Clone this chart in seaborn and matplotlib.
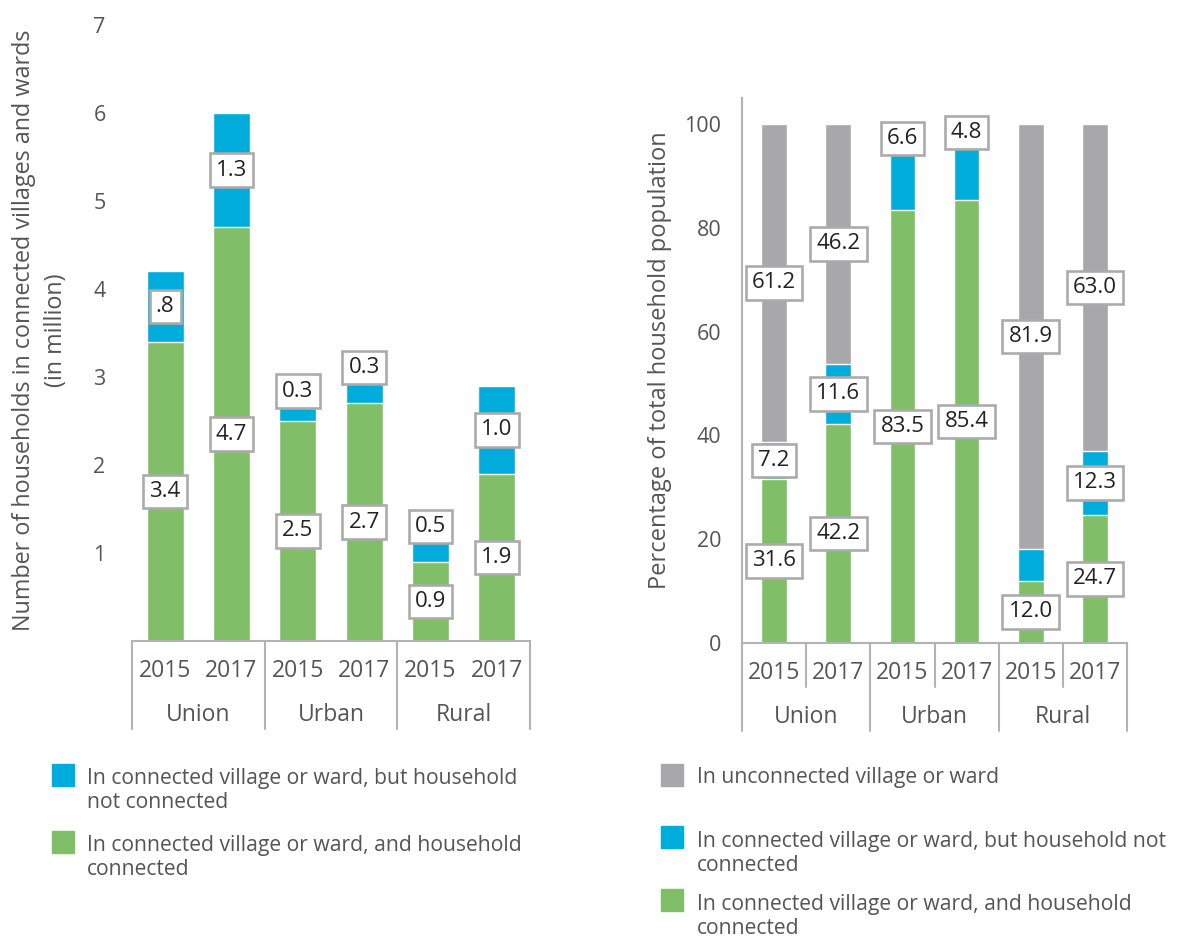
import matplotlib
matplotlib.use("Agg")
import matplotlib.pyplot as plt
from matplotlib.patches import Rectangle
import seaborn as sns

sns.set_style("white")
plt.rcParams["font.family"] = ["Open Sans", "DejaVu Sans"]

# ---- data ----
areas = ["Union", "Urban", "Rural"]
years = ["2015", "2017"]
bar_ids = [f"{a} {y}" for a in areas for y in years]

# left: households (million)
hh_connected = [3.4, 4.7, 2.5, 2.7, 0.9, 1.9]
hh_not_connected = [0.8, 1.3, 0.3, 0.3, 0.5, 1.0]
hh_conn_labels = ["3.4", "4.7", "2.5", "2.7", "0.9", "1.9"]
hh_not_labels = [".8", "1.3", "0.3", "0.3", "0.5", "1.0"]

# right: percentage of household population
pct_connected = [31.6, 42.2, 83.5, 85.4, 12.0, 24.7]
pct_not_connected = [7.2, 11.6, 16.5, 14.6, 6.1, 12.3]   # as drawn
pct_unconnected = [61.2, 46.2, 0.0, 0.0, 81.9, 63.0]
pct_conn_labels = ["31.6", "42.2", "83.5", "85.4", "12.0", "24.7"]
pct_not_labels = ["7.2", "11.6", "6.6", "4.8", "", "12.3"]
pct_unconn_labels = ["61.2", "46.2", "", "", "81.9", "63.0"]

BLUE = "#00ACDB"
GREEN = "#80BF67"
GREY = "#A8A8AA"
LINE = "#B3B3B3"
TXT = "#555555"

W, H = 1177, 938
fig = plt.figure(figsize=(W / 100, H / 100), dpi=100)


def px_axes(x0, y0, x1, y1):
    return fig.add_axes([x0 / W, 1 - y1 / H, (x1 - x0) / W, (y1 - y0) / H])


def boxed(ax, x, y, s):
    if not s:
        return
    ax.text(x, y, s, ha="center", va="center", fontsize=16, color="#222222",
            bbox=dict(boxstyle="square,pad=0.28", fc="white", ec="#ABABAB", lw=1.9),
            zorder=5)


def category_axis(ax, height_px, year_lines):
    tr = ax.get_xaxis_transform()
    ypx = lambda p: -p / height_px
    for i, b in enumerate(bar_ids):
        ax.text(i, ypx(30), b.split()[1], transform=tr, ha="center", va="center",
                fontsize=16.5, color=TXT)
    for g, a in enumerate(areas):
        ax.text(2 * g + 0.5, ypx(74), a, transform=tr, ha="center", va="center",
                fontsize=16.5, color=TXT)
    for k in range(7):
        x = k - 0.5
        if k % 2 == 0:
            ax.plot([x, x], [0, ypx(88)], transform=tr, color=LINE, lw=1.5, clip_on=False)
        elif year_lines:
            ax.plot([x, x], [0, ypx(44)], transform=tr, color=LINE, lw=1.5, clip_on=False)


# ---- left panel ----
ax1 = px_axes(132, 25, 530, 641)
hh_total = [c + n for c, n in zip(hh_connected, hh_not_connected)]
sns.barplot(x=bar_ids, y=hh_total, color=BLUE, saturation=1, width=0.56,
            errorbar=None, order=bar_ids, ax=ax1)
sns.barplot(x=bar_ids, y=hh_connected, color=GREEN, saturation=1, width=0.56,
            errorbar=None, order=bar_ids, ax=ax1)
ax1.set_xlim(-0.5, 5.5)
ax1.set_ylim(0, 7)
ax1.set_yticks(range(1, 8))
ax1.set_xticks([])
ax1.set_xlabel("")
ax1.tick_params(axis="y", length=0, pad=19, labelsize=15.5, labelcolor=TXT)
for s in ["left", "right", "top"]:
    ax1.spines[s].set_visible(False)
ax1.spines["bottom"].set_color(LINE)
ax1.spines["bottom"].set_linewidth(1.5)
category_axis(ax1, 616, False)

# label positions: segment centres, a few small ones nudged above
left_blue_y = {2: 2.84, 3: 3.11, 4: 1.30}
for i in range(6):
    c, n = hh_connected[i], hh_not_connected[i]
    boxed(ax1, i, c / 2, hh_conn_labels[i])
    boxed(ax1, i, left_blue_y.get(i, c + n / 2), hh_not_labels[i])

fig.text(40 / W, 1 - 330 / H,
         "Number of households in connected villages and wards\n(in million)",
         rotation=90, ha="center", va="center", multialignment="center",
         fontsize=16.8, color=TXT, linespacing=1.4)

# ---- right panel ----
ax2 = px_axes(742, 98, 1127, 643)
pct_cb = [c + n for c, n in zip(pct_connected, pct_not_connected)]
pct_all = [c + u for c, u in zip(pct_cb, pct_unconnected)]
sns.barplot(x=bar_ids, y=pct_all, color=GREY, saturation=1, width=0.4,
            errorbar=None, order=bar_ids, ax=ax2)
sns.barplot(x=bar_ids, y=pct_cb, color=BLUE, saturation=1, width=0.4,
            errorbar=None, order=bar_ids, ax=ax2)
sns.barplot(x=bar_ids, y=pct_connected, color=GREEN, saturation=1, width=0.4,
            errorbar=None, order=bar_ids, ax=ax2)
ax2.set_xlim(-0.5, 5.5)
ax2.set_ylim(0, 105)
ax2.set_yticks([0, 20, 40, 60, 80, 100])
ax2.set_xticks([])
ax2.set_xlabel("")
ax2.tick_params(axis="y", length=6.5, width=1.5, color=LINE, pad=8.5,
                labelsize=15.5, labelcolor=TXT)
for s in ["right", "top"]:
    ax2.spines[s].set_visible(False)
for s in ["left", "bottom"]:
    ax2.spines[s].set_color(LINE)
    ax2.spines[s].set_linewidth(1.5)
category_axis(ax2, 545, True)

right_blue_y = {2: 97.2, 3: 98.3}
for i in range(6):
    c, n, u = pct_connected[i], pct_not_connected[i], pct_unconnected[i]
    boxed(ax2, i, c / 2, pct_conn_labels[i])
    boxed(ax2, i, right_blue_y.get(i, c + n / 2), pct_not_labels[i])
    boxed(ax2, i, c + n + u / 2, pct_unconn_labels[i])

fig.text(660 / W, 1 - 360 / H, "Percentage of total household population",
         rotation=90, ha="center", va="center", fontsize=17, color=TXT)


# ---- legends (square aligned with the first text line) ----
def legend_item(x_sq, y_sq, x_txt, y_base, color, label):
    fig.add_artist(Rectangle((x_sq / W, 1 - (y_sq + 22) / H), 22 / W, 22 / H,
                             transform=fig.transFigure, color=color))
    n_lines = label.count("\n")
    fig.text(x_txt / W, 1 - (y_base + 25 * n_lines) / H, label, ha="left",
             va="baseline", fontsize=15.2, color=TXT, linespacing=1.2)


legend_item(52, 764, 87, 783, BLUE, "In connected village or ward, but household\nnot connected")
legend_item(52, 831, 87, 850, GREEN, "In connected village or ward, and household\nconnected")
legend_item(661, 764, 697, 783, GREY, "In unconnected village or ward")
legend_item(661, 826, 697, 846, BLUE, "In connected village or ward, but household not\nconnected")
legend_item(661, 889, 697, 909, GREEN, "In connected village or ward, and household\nconnected")

fig.savefig("out.png", dpi=100)
